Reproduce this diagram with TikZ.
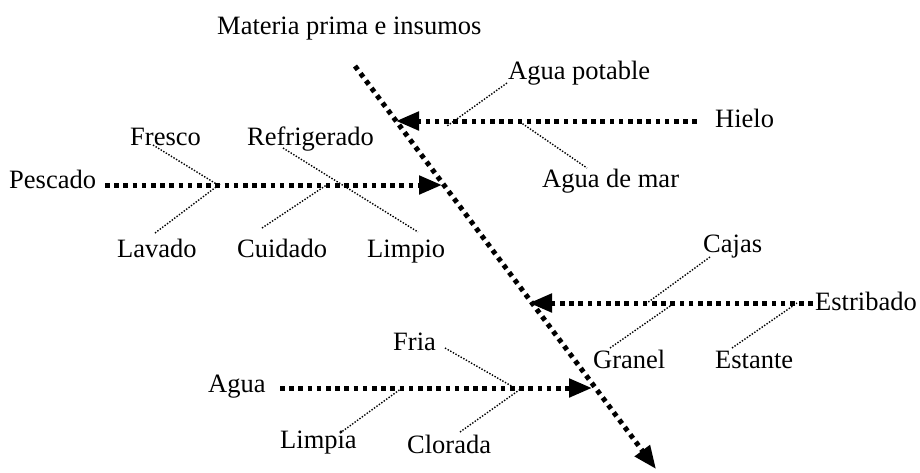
\documentclass[tikz,border=0pt]{standalone}
\usepackage{fontspec}
\setmainfont{Liberation Serif}
\usetikzlibrary{arrows.meta}
\tikzset{
  lbl/.style={anchor=base west, inner sep=0pt, font=\fontsize{26.5}{30}\selectfont},
  bigdot/.style={line width=5pt, dash pattern=on 4.6pt off 4.6pt},
  smalldot/.style={line width=1.4pt, dash pattern=on 1.4pt off 1.6pt},
  tip/.style={-{Triangle[length=23pt,width=18pt]}},
}
\begin{document}
\begin{tikzpicture}[x=1pt,y=-1pt]
\useasboundingbox (0,0) rectangle (920,472);
% title
\node[lbl] (title) at (217,34) {Materia prima e insumos};
% spine
\coordinate (s0) at (355,66);
\coordinate (s1) at (656,469);
\draw[bigdot,tip] (s0) -- (s1);

% Hielo branch
\node[lbl] (hielo) at (715,127) {Hielo};
\coordinate (hA) at (697,121);
\coordinate (hB) at (396,121);
\draw[bigdot,tip] (hA) -- (hB);
\node[lbl] (aguapot) at (508,79) {Agua potable};
\node[lbl] (aguamar) at (542,187) {Agua de mar};
\coordinate (apA) at (507,83);
\coordinate (apB) at (447,126);
\draw[smalldot] (apA) -- (apB);
\coordinate (amA) at (520,122);
\coordinate (amB) at (587,168);
\draw[smalldot] (amA) -- (amB);

% Pescado branch
\node[lbl] (pescado) at (9,188) {Pescado};
\coordinate (pA) at (105,185);
\coordinate (pB) at (442,185);
\draw[bigdot,tip] (pA) -- (pB);
\node[lbl] (fresco) at (130,145) {Fresco};
\node[lbl] (lavado) at (117,257) {Lavado};
\node[lbl] (refrig) at (247,145) {Refrigerado};
\node[lbl] (cuidado) at (237,257) {Cuidado};
\node[lbl] (limpio) at (367,257) {Limpio};
\coordinate (frA) at (153,145);
\coordinate (frB) at (218,185);
\draw[smalldot] (frA) -- (frB);
\coordinate (laA) at (155,233);
\coordinate (laB) at (220,184);
\draw[smalldot] (laA) -- (laB);
\coordinate (reA) at (283,148);
\coordinate (reB) at (418,232);
\draw[smalldot] (reA) -- (reB);
\coordinate (cuA) at (262,228);
\coordinate (cuB) at (328,184);
\draw[smalldot] (cuA) -- (cuB);

% Estribado branch
\node[lbl] (estribado) at (815,310) {Estribado};
\coordinate (eA) at (813,303);
\coordinate (eB) at (529,303);
\draw[bigdot,tip] (eA) -- (eB);
\node[lbl] (cajas) at (703,252) {Cajas};
\node[lbl] (granel) at (593,368) {Granel};
\node[lbl] (estante) at (715,368) {Estante};
\coordinate (caA) at (710,257);
\coordinate (caB) at (647,303);
\draw[smalldot] (caA) -- (caB);
\coordinate (grA) at (610,348);
\coordinate (grB) at (673,304);
\draw[smalldot] (grA) -- (grB);
\coordinate (esA) at (732,348);
\coordinate (esB) at (797,303);
\draw[smalldot] (esA) -- (esB);

% Agua branch
\node[lbl] (agua) at (208,392) {Agua};
\coordinate (aA) at (280,388);
\coordinate (aB) at (592,388);
\draw[bigdot,tip] (aA) -- (aB);
\node[lbl] (fria) at (393,350) {Fria};
\node[lbl] (limpia) at (280,448) {Limpia};
\node[lbl] (clorada) at (407,453) {Clorada};
\coordinate (fiA) at (445,348);
\coordinate (fiB) at (515,388);
\draw[smalldot] (fiA) -- (fiB);
\coordinate (liA) at (340,433);
\coordinate (liB) at (402,388);
\draw[smalldot] (liA) -- (liB);
\coordinate (clA) at (460,432);
\coordinate (clB) at (522,388);
\draw[smalldot] (clA) -- (clB);
\end{tikzpicture}
\end{document}
